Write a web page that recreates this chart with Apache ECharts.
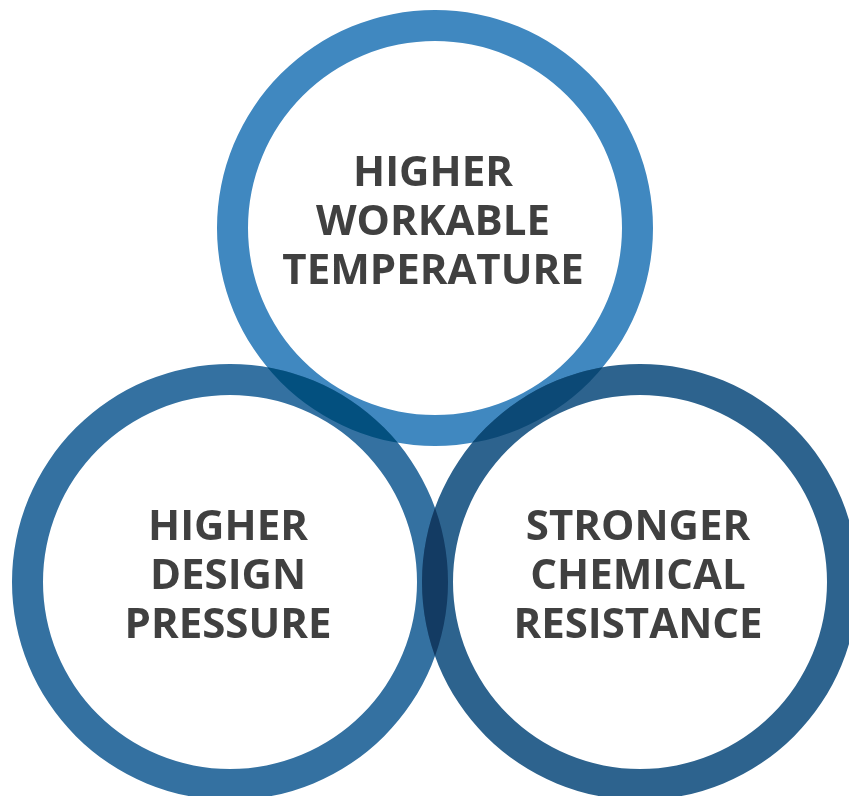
<!DOCTYPE html>
<html><head><meta charset="utf-8">
<script src="https://cdn.jsdelivr.net/npm/echarts@6/dist/echarts.min.js"></script>
<style>html,body{margin:0;padding:0;background:#fff}#c{width:849px;height:796px}</style>
</head><body><div id="c"></div>
<script>
// Venn sets (labels)
const setLabels = ['HIGHER\nWORKABLE\nTEMPERATURE', 'HIGHER\nDESIGN\nPRESSURE', 'STRONGER\nCHEMICAL\nRESISTANCE'];
// layout (data units on a hidden 849 x 796 scale)
const centerX = [435, 230, 640];
const centerY = [228, 582, 582];
const outerR = [218, 218, 218];
const innerR = [187, 187, 187];
// pairwise overlaps (set indices)
const overlapPairs = [[0, 1], [0, 2], [1, 2]];

const ringColors = ['#4088C0', '#3471A1', '#2D638E'];
const overlapColors = ['#03507F', '#0C4976', '#133B63'];

const chart = echarts.init(document.getElementById('c'), null, {renderer: 'canvas'});
chart.setOption({
  animation: false,
  grid: {left: 0, right: 0, top: 0, bottom: 0},
  xAxis: {type: 'value', min: 0, max: 849, show: false},
  yAxis: {type: 'value', min: 0, max: 796, inverse: true, show: false},
  series: [
    {
      type: 'custom',
      coordinateSystem: 'cartesian2d',
      clip: false,
      z: 1,
      data: setLabels.map((l, i) => [centerX[i], centerY[i], i]),
      renderItem(params, api) {
        const i = api.value(2);
        const c = api.coord([api.value(0), api.value(1)]);
        const ro = Math.abs(api.size([outerR[i], 0])[0]);
        const ri = Math.abs(api.size([innerR[i], 0])[0]);
        return {
          type: 'group',
          children: [
            {type: 'ring', shape: {cx: c[0], cy: c[1], r: ro, r0: ri}, style: {fill: ringColors[i]}},
            {type: 'text', x: c[0] - 2, y: c[1] - 5, z2: 10,
             style: {text: setLabels[i], fill: '#404040', fontSize: 42, fontWeight: 'bold',
                     fontFamily: 'Open Sans', lineHeight: 49, align: 'center', verticalAlign: 'middle'}}
          ]
        };
      }
    },
    {
      type: 'custom',
      coordinateSystem: 'cartesian2d',
      clip: false,
      z: 2,
      data: overlapPairs.map((p, k) => [p[0], p[1], k]),
      renderItem(params, api) {
        const a = api.value(0), b = api.value(1), k = api.value(2);
        const ca = api.coord([centerX[a], centerY[a]]);
        const cb = api.coord([centerX[b], centerY[b]]);
        const roa = Math.abs(api.size([outerR[a], 0])[0]);
        const ria = Math.abs(api.size([innerR[a], 0])[0]);
        const rob = Math.abs(api.size([outerR[b], 0])[0]);
        const rib = Math.abs(api.size([innerR[b], 0])[0]);
        return {
          type: 'ring',
          shape: {cx: ca[0], cy: ca[1], r: roa, r0: ria},
          style: {fill: overlapColors[k]},
          clipPath: {type: 'ring', shape: {cx: cb[0], cy: cb[1], r: rob, r0: rib}}
        };
      }
    }
  ]
});
</script>
</body></html>
